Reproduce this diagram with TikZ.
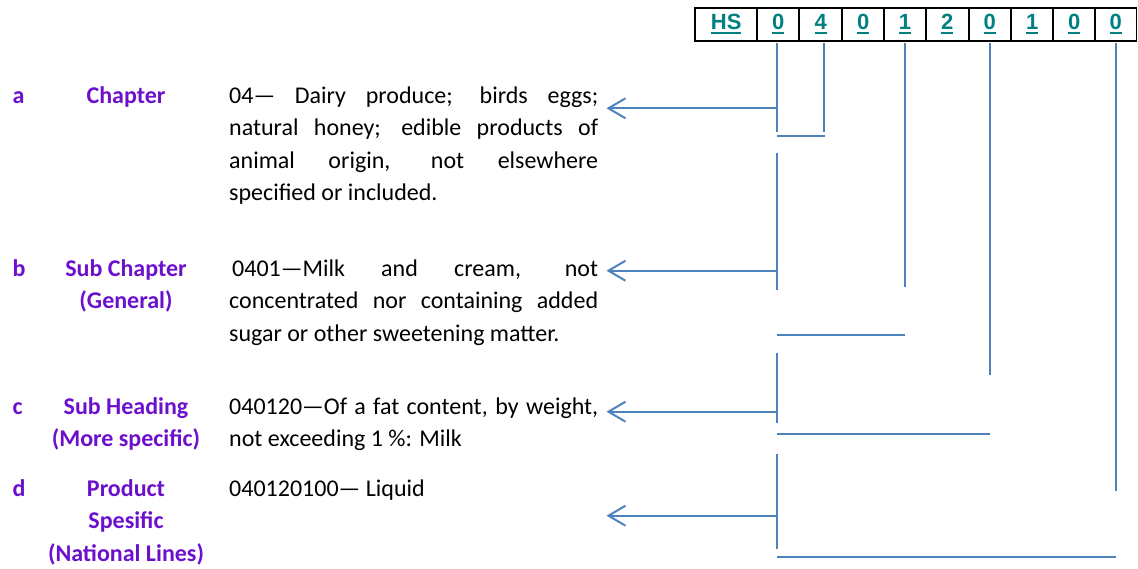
\documentclass[tikz,border=0pt]{standalone}
\usepackage{fontspec}
\setmainfont{Carlito}
\newfontfamily\boxfont{Liberation Sans}
\usetikzlibrary{arrows.meta}
\definecolor{lineblue}{HTML}{4F81BD}
\definecolor{labpurple}{RGB}{108,16,204}
\definecolor{codeteal}{RGB}{0,128,128}
\newcommand\codeul[1]{\setbox0\hbox{#1}\rlap{\rule[-5pt]{\wd0}{2pt}}\box0}
\newcommand\jline[1]{\hbox{\makebox[369pt][s]{#1}}}
\newcommand\pline[1]{\hbox{#1}}
\newcommand\clines[1]{\vtop{\halign{\hfil##\hfil\cr#1\crcr}}}
\begin{document}
\begin{tikzpicture}[x=1pt,y=-1pt,
  bodytext/.style={anchor=base west, inner sep=0pt, font=\fontsize{24}{32.5}\selectfont},
  labeltext/.style={anchor=base, inner sep=0pt, text=labpurple, font=\bfseries\fontsize{24}{32.5}\selectfont},
  lettertext/.style={anchor=base west, inner sep=0pt, text=labpurple, font=\bfseries\fontsize{24}{32.5}\selectfont},
  cell/.style={draw=black, line width=1.8pt, minimum height=33.3pt, inner sep=0pt, text=codeteal,
    font=\boxfont\bfseries\fontsize{22}{22}\selectfont, text height=15.6pt, text depth=5.6pt},
  bracket/.style={draw=lineblue, line width=2pt},
  pointer/.style={bracket, -{Straight Barb[length=17pt,width=20pt]}}
]
\useasboundingbox (0,0) rectangle (1138,568);

% code box
\node[cell, minimum width=62.3pt] (c0) at (726.15,24.3) {\codeul{HS}};
\node[cell, minimum width=41.7pt] (c1) at (778.15,24.3) {\codeul{0}};
\node[cell, minimum width=43.3pt] (c2) at (820.65,24.3) {\codeul{4}};
\node[cell, minimum width=41.7pt] (c3) at (863.15,24.3) {\codeul{0}};
\node[cell, minimum width=42pt]   (c4) at (905,24.3)    {\codeul{1}};
\node[cell, minimum width=42.7pt] (c5) at (947.35,24.3) {\codeul{2}};
\node[cell, minimum width=42.3pt] (c6) at (989.85,24.3) {\codeul{0}};
\node[cell, minimum width=42.3pt] (c7) at (1032.15,24.3) {\codeul{1}};
\node[cell, minimum width=41.7pt] (c8) at (1074.15,24.3) {\codeul{0}};
\node[cell, minimum width=41.5pt] (c9) at (1115.75,24.3) {\codeul{0}};

% letters
\node[lettertext] (la) at (12.5,103.3) {a};
\node[lettertext] (lb) at (12.5,276) {b};
\node[lettertext] (lc) at (12.5,414) {c};
\node[lettertext] (ld) at (12.5,496) {d};

% level labels
\node[labeltext] (na) at (126,103.3) {Chapter};
\node[labeltext] (nb) at (126,276) {\clines{Sub Chapter\cr (General)}};
\node[labeltext] (nc) at (126,414) {\clines{Sub Heading\cr (More specific)}};
\node[labeltext] (nd) at (126,496) {\clines{Product\cr Spesific\cr (National Lines)}};

% descriptions
\node[bodytext] (ta) at (229,103.3) {\vtop{\jline{04— Dairy produce; birds eggs;}
  \jline{natural honey; edible products of}
  \jline{animal origin, not elsewhere}
  \pline{specified or included.}}};
\node[bodytext] (tb) at (229,276) {\vtop{\jline{\hspace{3pt}0401—Milk and cream, not}
  \jline{concentrated nor containing added}
  \pline{sugar or other sweetening matter.}}};
\node[bodytext] (tc) at (229,414) {\vtop{\jline{040120—Of a fat content, by weight,}
  \pline{not exceeding 1 \%: Milk}}};
\node[bodytext] (td) at (229,496) {040120100— Liquid};

% bracket coordinates
\coordinate (d0top) at (777,43);
\coordinate (d0a) at (777,132);
\coordinate (d4top) at (824.3,43);
\coordinate (d4bot) at (824.3,132);
\coordinate (ha1) at (777,136);
\coordinate (ha2) at (825,136);
\coordinate (vb1) at (777,152.7);
\coordinate (vb2) at (777,290);
\coordinate (d1top) at (905,43);
\coordinate (d1bot) at (905,286.7);
\coordinate (hb1) at (777,334.7);
\coordinate (hb2) at (905,334.7);
\coordinate (vc1) at (777,353.3);
\coordinate (vc2) at (777,422.7);
\coordinate (d2top) at (990,43);
\coordinate (d2bot) at (990,375);
\coordinate (hc1) at (777,434);
\coordinate (hc2) at (990,434);
\coordinate (vd1) at (777,454);
\coordinate (vd2) at (777,549.3);
\coordinate (d3top) at (1116,43);
\coordinate (d3bot) at (1116,490.7);
\coordinate (hd1) at (777,557.3);
\coordinate (hd2) at (1116,557.3);

\draw[bracket] (d0top) -- (d0a);
\draw[bracket] (d4top) -- (d4bot);
\draw[bracket] (ha1) -- (ha2);
\draw[bracket] (vb1) -- (vb2);
\draw[bracket] (d1top) -- (d1bot);
\draw[bracket] (hb1) -- (hb2);
\draw[bracket] (vc1) -- (vc2);
\draw[bracket] (d2top) -- (d2bot);
\draw[bracket] (hc1) -- (hc2);
\draw[bracket] (vd1) -- (vd2);
\draw[bracket] (d3top) -- (d3bot);
\draw[bracket] (hd1) -- (hd2);

% arrows
\coordinate (sa) at (777,108.3);
\coordinate (ea) at (606.5,108.3);
\coordinate (sb) at (777,270.7);
\coordinate (eb) at (606.5,270.7);
\coordinate (sc) at (777,411.7);
\coordinate (ec) at (606.5,411.7);
\coordinate (sd) at (777,515.7);
\coordinate (ed) at (606.5,515.7);
\draw[pointer] (sa) -- (ea);
\draw[pointer] (sb) -- (eb);
\draw[pointer] (sc) -- (ec);
\draw[pointer] (sd) -- (ed);
\end{tikzpicture}
\end{document}
